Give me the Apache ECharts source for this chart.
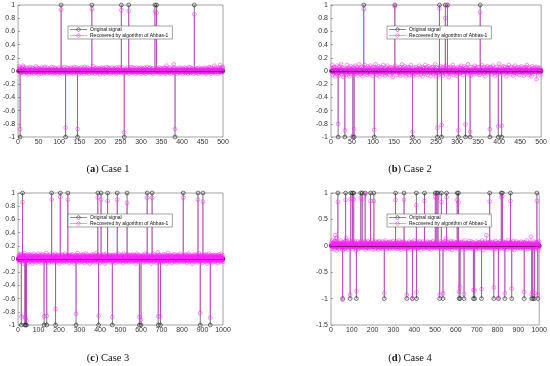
<!DOCTYPE html>
<html><head><meta charset="utf-8">
<script src="https://cdn.jsdelivr.net/npm/echarts@6/dist/echarts.min.js"></script>
<style>html,body{margin:0;padding:0;background:#fff}#c{width:550px;height:366px}</style>
</head><body><div id="c"></div>
<script>
// ---------------- DATA ----------------
// noise code: letter -> (charCode - 78)/100 , 'N' = 0, 'A' = -0.13, 'Z' = +0.12
const seriesNames = ['Original signal', 'Recovered by algorithm of Abbas-1'];
const captionsText = ['Case 1', 'Case 2', 'Case 3', 'Case 4'];
const captionLetters = ['a', 'b', 'c', 'd'];

const lengthA = 500, lengthB = 500, lengthC = 1000, lengthD = 1000;

const originalA = [[5,-1],[105,1],[116,-1],[145,-1],[180,1],[252,1],[259,-1],[270,1],[334,1],[338,1],[383,-1],[430,1]];
const recoveredSpikesA = [[5,-0.88],[105,0.93],[116,-0.86],[145,-0.88],[180,0.94],[252,0.92],[259,-0.93],[270,0.91],[334,0.90],[338,0.88],[383,-0.88],[430,0.86]];
const noiseA = [
"NQUSMKPORL MVTNJQPLOS KNRPMIQOTL NPKSOMRJNQ PLOUMKSNQI",
"ORNLQPJSMN QKORTMLPNJ SOMQLNRPKO MTNJQOLSPN KRMPOIQNSL",
"OPKNSQMJRO NLTPMQKONS JPRMOLNQSK MOPRJNTLQO NKSPMOQIRN",
"LPOSKNMQRJ OTNLPQMKSO NRJPMOQLNS KOUPMNJRQL OSNKPMQORI",
"NPLQSMOKRN JQPOTLNMSK PRNOJQMLSO NKQPRMOLJS NOQKPTMNRL",
"MQONSKPJRO NLQPMSOKNR JPQMOTLNSK ORPMNQJOSL NPKRMOQNSJ",
"OQLNRPMKSO NJQPTMOLNR KSOPMQNLRJ ONPSKMQORL NMPQSKOJRN",
"PLOQNSMKRJ OVNPMQLOSK NRJPOMQLNX SKOPMNQJRO LNPSKMOQRN",
"JOPQMSLNKR ONQPJMTLOS KNPRMOQJNS LOPQMKRNOJ SPNLQMORKN",
"PMOQSLNJRO KNPQMTOLSN JRPOMQLNVK OSPMNQJORL NPWQSKOMRT"];

const originalB = [[17,-1],[33,-1],[52,-1],[55,-1],[78,1],[103,-1],[152,1],[194,-1],[253,-1],[258,1],[263,-1],[272,1],[277,1],[303,-1],[320,-1],[331,-1],[355,1],[378,-1],[398,-1],[406,-1]];
const recoveredSpikesB = [[17,-0.80],[33,-0.90],[52,-0.98],[55,-0.88],[78,0.94],[103,-0.89],[152,0.98],[194,-0.92],[253,-0.86],[258,0.95],[263,-0.82],[272,0.80],[277,0.99],[303,-0.90],[320,-0.81],[331,-0.92],[355,0.89],[378,-0.88],[398,-0.84],[406,-0.83]];
const noiseB = [
"NRWHPKTMQF SOJVLNRGPU KMQXINSPEO RLTJNQHWMP OSKFRNUJPL",
"QHTNMRKVOJ PSGNQLXMRI OKTPFNSQLW JMRONHUKPS LQIVNOMRGT",
"PNKSJXOMQH RLUNFPSOKT MIQWNLRPGO SKNVJPMQHR TONLSKEPRQ",
"NJVMOQHSPL KRNTGOPMXI QSLNKUPFRO MJTQNHSPLW OKNRGQMSJP",
"LTNOQHRPKV NMSIPQOFTL RJNWPMKSOH QUNLPRGMOS KTJNQPLXMF",
"SONKRHPQMU JLNSOGTPRK NQIVMOPLSE RKNTQJPOMW HSNLQPKRGO",
"PTMNJRSOKV LNQHPMUORF SKNPJXQMLO RGTNPKSOMI QVNLRPJTOK",
"MSHNQPOKWL RJNTOPFSMQ KUNOPLRHTM SQINVPKORG NLTQMPJSOY",
"KRNPMHSQOU LJNTPOFRMS QKWNPLIOTR MNQGSPKVOL RJNPTMOHSQ",
"NLUPKRMOGS QNJTPWLMOR HKSNPQFOUL RMNJSPOQBT NKPRMSOHQL"];

const originalC = [[16,-1],[22,1],[33,-1],[37,-1],[41,-1],[127,-1],[140,-1],[164,1],[183,-1],[206,1],[243,1],[283,-1],[389,1],[393,-1],[405,1],[437,1],[460,-1],[484,1],[532,1],[592,-1],[600,-1],[630,1],[654,1],[684,-1],[695,-1],[806,1],[878,1],[889,-1],[902,1],[938,-1]];
const recoveredSpikesC = [[16,-0.87],[22,0.86],[33,-0.88],[37,-0.90],[41,-0.94],[127,-0.87],[140,-0.86],[164,0.90],[183,-0.76],[206,0.94],[243,0.90],[283,-0.83],[389,0.93],[393,-0.86],[405,0.90],[437,0.88],[460,-0.88],[484,0.90],[532,0.85],[592,-0.88],[600,-0.92],[630,0.93],[654,0.93],[684,-0.87],[695,-0.87],[806,0.93],[878,0.90],[889,-0.82],[902,0.87],[938,-0.89]];
const noiseC = [
"NQLTPKSOMV JRNPUMOLSQ KNTPGRMOQS LWNPJSOMRK QTNLPMHSOR",
"NKUPMQSJOR LNPTMQKOSG RNPLVMOQJS KNRPMTLOQI SNPOKRMVLQ",
"OJNSPQMTLR KNPOHSQMUR LNPJQOMSKT NRPMOLQWKS NJPROMQLTH",
"NSPQKOMRLU JNPSOQMKRT NLPOIQSMRK NVPLOQJSMR TNKPOMQLSG",
"RNPQMOKSLU NJPRQOMTKL SNPIOQMRKV NLPSOQJMRT KNPOMQLSRH",
"NQPTKOMRSL JNUPOQMKRS NLPOGQSMRK TNPLOQJSMW RKNPOMQLSI",
"QNPRMOKSLT NJPQROMUKL SNPHOQMRKS NVPLOQJMRT KNPOMQLSRG",
"NRPQKOMSLU JNPSOQMKRT NLPOIQSMRK NWPLOQJSMR TNKPOMQLSH",
"RNPQMOKSLT NJPRQOMUKL SNPGOQMRKS NVPLOQJMRT KNPOMQLSRI",
"NQPTKOMRSL JNTPOQMKRS NLPOHQSMRK UNPLOQJSMV RKNPOMQLSJ",
"PMRNKTOQLS NHQPVMORKL SNOPJQMTRK LNPUOMQISR KNPOQMLTSJ",
"NRPOKQMSUL JNQPROMKTS NLPOGRSMQK VNPLOQJSMR TKNPOMQLRH",
"QNPSMOKRLT NIPQROMVKL SNPJOQMRKT NUPLOQJMRS KNPOMQLSRG",
"NSPQKOMRLV JNPTOQMKRS NLPOHQSMRK NXPLOQJSMR TNKPOMQLSI",
"RNPQMOKSLU NJPRQOMTKL SNPGOQMRKS NWPLOQJMRT KNPOMQLSRH",
"NQPTKOMRSL JNUPOQMKRS NLPOIQSMRK TNPLOQJSMV RKNPOMQLSJ",
"QNPRMOKSLT NJPQROMUKL SNPHOQMRKS NVPLOQJMRT KNPOMQLSRG",
"NRPQKOMSLU JNPSOQMKRT NLPOIQSMRK NWPLOQJSMR TNKPOMQLSH",
"RNPQMOKSLT NJPRQOMUKL SNPGOQMRKS NVPLOQJMRT KNPOMQLSRI",
"NQPTKOMRSL JNTPOQMKRS NLPOHQSMRK UNPLOQJSMV RKNPOMQLSJ"];

const originalD = [[33,1],[56,-1],[70,1],[92,-1],[95,1],[103,1],[109,1],[122,-1],[143,1],[150,1],[164,1],[190,1],[206,1],[256,-1],[310,1],[351,1],[364,-1],[391,-1],[410,1],[411,-1],[449,1],[501,1],[508,1],[514,1],[522,-1],[530,1],[538,-1],[555,1],[606,1],[612,1],[615,-1],[620,-1],[639,-1],[684,-1],[690,-1],[723,-1],[762,1],[782,-1],[804,-1],[818,1],[823,1],[835,-1],[862,1],[868,-1],[928,-1],[964,-1],[969,-1],[977,-1],[989,1],[993,-1]];
const recoveredSpikesD = [[33,0.83],[56,-1.02],[70,0.87],[92,-0.93],[95,0.88],[103,0.90],[109,0.88],[122,-0.86],[143,0.91],[150,0.88],[164,0.97],[190,0.85],[206,0.85],[256,-0.90],[310,0.87],[351,0.87],[364,-0.93],[391,-1.00],[410,0.77],[411,-0.88],[449,0.85],[501,0.93],[508,0.90],[514,0.95],[522,-0.93],[530,0.83],[538,-0.90],[555,0.92],[606,0.87],[612,0.82],[615,-0.87],[620,-0.78],[639,-0.91],[684,-0.84],[690,-0.85],[723,-0.82],[762,0.84],[782,-0.79],[804,-0.98],[818,0.92],[823,0.94],[835,-0.90],[862,0.85],[868,-0.81],[928,-0.87],[964,-0.92],[969,-0.87],[977,-0.90],[989,0.85],[993,-0.93]];
const outliersD = [[20,0.20],[25,0.15],[72,0.15],[552,0.14],[747,0.20],[960,0.17]];
const noiseD = [
"NTQHPXMOKS RLNUPGQOWJ MSNKRPETOQ LNVPJSMRHO QTNKPMXLRS",
"OINRQPFUMK SNLTPQHOWR JNMSKPVOQG RLNTOPMSJX NKQPHRMOTL",
"SNPGQOUMKR LNWPJSOMQE RTNKPOMVLQ SHNPORMKTJ NQPWLOSMRF",
"KNTPQOMJSR LNVPGQOMSK RTNJPOWMLQ SINPORMKUH NQPSLOXMRG",
"PLSNOKRQMT HNPVQLOJSM RNKUPOGQSL MWNRPOJTKQ NSLPHRMOVK",
"QNMTPJROLS KXNPMQGROT LNSPKUMOJR QNHPVOLSMK RTNPOQIMWL",
"NRKPSOMQLT JNVPORMHSK QNLPTOXMRJ SNKPOGQMUL RNPOSKMQVI",
"LTNQPOMKSR HNPWOQLMRJ SNKPVOMQLT GNRPOSKMQU NLPQOJSMXK",
"RONPLSKMQT NHPUOQLMRJ SNKPWOMQLT FNRPOSKMQV NLPQOISMTK",
"QSNPMLKROT JNPVOQLMSH RNKPUOMQLS GNRPOTKMQW NLPQOJSMRK",
"OTNQPMKSRL INPXOQLMRJ SNKPVOMQLT HNRPOSKMQU NLPQOGSMWK",
"RNPLSOKMQT NJPUOQLMRH SNKPWOMQLT FNRPOSKMQV NLPQOJSMTK",
"QSNPMLKROT INPVOQLMSJ RNKPUOMQLS GNRPOTKMQX NLPQOHSMRK",
"OTNQPMKSRL JNPWOQLMRI SNKPVOMQLT HNRPOSKMQU NLPQOGSMVK",
"RNPLSOKMQT NHPUOQLMRJ SNKPXOMQLT FNRPOSKMQV NLPQOJSMTK",
"QSNPMLKROT JNPVOQLMSI RNKPUOMQLS GNRPOTKMQW NLPQOHSMRK",
"OTNQPMKSRL INPWOQLMRJ SNKPVOMQLT HNRPOSKMQU NLPQOGSMXK",
"RNPLSOKMQT NJPUOQLMRH SNKPWOMQLT FNRPOSKMQV NLPQOJSMTK",
"QSNPMLKROT INPVOQLMSJ RNKPUOMQLS GNRPOTKMQX NLPQOHSMRK",
"OTNQPMKSRL JNPWOQLMRI SNKPVOMQLT HNRPOSKMQU NLPQOGSMVK"];

// ---------------- BUILD ----------------
function buildOriginal(n, spikes) {
  const m = new Map(spikes); const out = [];
  for (let i = 1; i <= n; i++) out.push([i, m.has(i) ? m.get(i) : 0]);
  return out;
}
function buildRecovered(n, noiseLines, spikes, outliers) {
  const s = noiseLines.join('').replace(/\s/g, '');
  const m = new Map(spikes), o = new Map(outliers || []); const out = [];
  for (let i = 1; i <= n; i++) {
    let v;
    if (m.has(i)) v = m.get(i);
    else if (o.has(i)) v = o.get(i);
    else v = (i - 1 < s.length) ? (s.charCodeAt(i - 1) - 78) / 100 : 0;
    out.push([i, v]);
  }
  return out;
}

const panels = [
  {n: lengthA, orig: originalA, rec: buildRecovered(lengthA, noiseA, recoveredSpikesA),
   grid: {left: 13, top: 5, width: 210, height: 132}, xInt: 50, yMin: -1, yMax: 1, yInt: 0.2,
   legendPos: {left: 68, top: 26}, cap: [108, 169]},
  {n: lengthB, orig: originalB, rec: buildRecovered(lengthB, noiseB, recoveredSpikesB),
   grid: {left: 331, top: 5, width: 211, height: 132}, xInt: 50, yMin: -1, yMax: 1, yInt: 0.2,
   legendPos: {left: 387, top: 26}, cap: [410, 169]},
  {n: lengthC, orig: originalC, rec: buildRecovered(lengthC, noiseC, recoveredSpikesC),
   grid: {left: 13, top: 193, width: 210, height: 132}, xInt: 100, yMin: -1, yMax: 1, yInt: 0.2,
   legendPos: {left: 68, top: 214}, cap: [108, 358]},
  {n: lengthD, orig: originalD, rec: buildRecovered(lengthD, noiseD, recoveredSpikesD, outliersD),
   grid: {left: 331, top: 193, width: 211, height: 132}, xInt: 100, yMin: -1.5, yMax: 1, yInt: 0.5,
   legendPos: {left: 387, top: 214}, cap: [410, 358]}
];

function stemRenderer(color, r, lw) {
  return function (params, api) {
    const x = api.value(0), y = api.value(1);
    const p = api.coord([x, y]);
    const b = api.coord([x, 0]);
    return {type: 'group', children: [
      {type: 'line', shape: {x1: b[0], y1: b[1], x2: p[0], y2: p[1]}, style: {stroke: color, lineWidth: lw}},
      {type: 'circle', shape: {cx: p[0], cy: p[1], r: r}, style: {fill: 'none', stroke: color, lineWidth: lw}}
    ]};
  };
}

const BLACK = '#1a1a1a', MAGENTA = '#ff22ff';
const iconPath = 'path://M0,4.6L34,4.6L34,5.4L0,5.4Z M13,5A4,4 0 1,1 21,5A4,4 0 1,1 13,5Z M13.8,5A3.2,3.2 0 1,0 20.2,5A3.2,3.2 0 1,0 13.8,5Z';

const grid = [], xAxis = [], yAxis = [], series = [], legend = [], graphic = [];
const labelStyle = {fontSize: 7, color: '#333', fontFamily: 'Liberation Sans, Arial, sans-serif'};
panels.forEach((pn, k) => {
  grid.push(Object.assign({show: true, borderColor: '#666', borderWidth: 0.6, backgroundColor: '#fff'}, pn.grid));
  xAxis.push({type: 'value', gridIndex: k, min: 0, max: pn.n, interval: pn.xInt,
    axisLine: {show: false}, splitLine: {show: false},
    axisTick: {inside: true, length: 2, lineStyle: {color: '#666', width: 0.6}},
    axisLabel: Object.assign({margin: 2, formatter: v => String(v)}, labelStyle)});
  yAxis.push({type: 'value', gridIndex: k, min: pn.yMin, max: pn.yMax, interval: pn.yInt,
    axisLine: {show: false}, splitLine: {show: false},
    axisTick: {inside: true, length: 2, lineStyle: {color: '#666', width: 0.6}},
    axisLabel: Object.assign({margin: 3, formatter: v => String(Number(v.toFixed(1)))}, labelStyle)});
  series.push({type: 'custom', name: seriesNames[0], xAxisIndex: k, yAxisIndex: k,
    data: buildOriginal(pn.n, pn.orig), encode: {x: 0, y: 1}, clip: false,
    itemStyle: {color: BLACK}, renderItem: stemRenderer(BLACK, 1.9, 0.6), animation: false});
  series.push({type: 'custom', name: seriesNames[1], xAxisIndex: k, yAxisIndex: k,
    data: pn.rec, encode: {x: 0, y: 1}, clip: false,
    itemStyle: {color: MAGENTA}, renderItem: stemRenderer(MAGENTA, 1.9, 0.5), animation: false,
    markLine: {silent: true, symbol: 'none', label: {show: false}, animation: false,
      lineStyle: {color: '#3a003a', width: 0.8, type: 'solid', opacity: 0.7}, data: [{yAxis: 0}]}});
  legend.push({left: pn.legendPos.left, top: pn.legendPos.top, orient: 'vertical',
    data: seriesNames.map(nm => ({name: nm, icon: iconPath})),
    itemWidth: 17, itemHeight: 5, itemGap: 1, padding: [1, 4, 1, 2],
    borderColor: '#444', borderWidth: 0.5, backgroundColor: '#fff', selectedMode: false,
    textStyle: {fontSize: 5, color: '#111', fontFamily: 'Liberation Sans, Arial, sans-serif', padding: [0, 0, 0, -2]}});
  graphic.push({type: 'text', x: pn.cap[0], y: pn.cap[1],
    style: {text: '{p|(}{l|' + captionLetters[k] + '}{p|) ' + captionsText[k] + '}',
      textAlign: 'center', textVerticalAlign: 'middle',
      rich: {p: {fontSize: 10.5, fontFamily: 'Liberation Serif, serif', fill: '#111'},
             l: {fontSize: 10.5, fontFamily: 'Liberation Serif, serif', fontWeight: 'bold', fill: '#111'}}}});
});

const chart = echarts.init(document.getElementById('c'), null, {renderer: 'canvas'});
chart.setOption({animation: false, backgroundColor: '#fff', grid, xAxis, yAxis, series, legend, graphic});
</script></body></html>
